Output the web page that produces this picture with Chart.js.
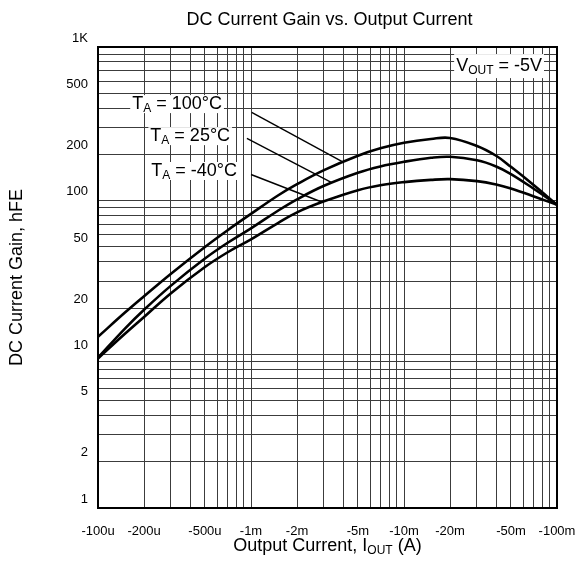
<!DOCTYPE html>
<html>
<head>
<meta charset="utf-8">
<script src="https://cdn.jsdelivr.net/npm/chart.js@4.4.1/dist/chart.umd.min.js"></script>
<style>
  html, body { margin: 0; padding: 0; background: #fff; }
  canvas { display: block; }
</style>
</head>
<body>
<canvas id="gainChart" width="580" height="576"></canvas>
<script>
// output current magnitude (A); the axis labels carry the minus sign
var currentA = [1e-4, 1.5e-4, 2e-4, 3e-4, 5e-4, 7e-4, 1e-3, 1.5e-3, 2e-3, 3e-3, 5e-3, 7e-3, 1e-2, 1.5e-2, 2e-2, 3e-2, 4e-2, 5e-2, 7e-2, 1e-1];
var gain100 = [13, 18.7, 23.9, 33.5, 50, 64, 82, 108, 128, 158, 196, 219, 238, 252, 256, 227, 196, 166, 127, 94];
var gain25 = [9.5, 14.7, 19.5, 28, 42, 53, 66, 86, 102, 125, 152, 167, 179, 190, 193, 183, 167, 149, 120, 94];
var gainMinus40 = [9.4, 13.6, 17.5, 25, 37, 46, 56, 71.5, 84, 99, 117, 126, 132, 136.5, 138, 134, 127.5, 120, 107, 94];

var xTickValues = [1e-4, 2e-4, 5e-4, 1e-3, 2e-3, 5e-3, 1e-2, 2e-2, 5e-2, 1e-1];
var xTickLabels = ["-100u", "-200u", "-500u", "-1m", "-2m", "-5m", "-10m", "-20m", "-50m", "-100m"];
var yTickValues = [1, 2, 5, 10, 20, 50, 100, 200, 500, 1000];
var yTickLabels = ["1", "2", "5", "10", "20", "50", "100", "200", "500", "1K"];

// curve labels and their leader lines, in data units
var tempLabels = [" = 100°C", " = 25°C", " = -40°C"];
var labelRightX = [6.46e-4, 7.3e-4, 8.1e-4];
var labelMidY = [425, 263, 156];
var leaderFrom = [[1.01e-3, 375], [9.4e-4, 254], [1.0e-3, 148]];
var leaderTo = [[3.92e-3, 180], [3.37e-3, 131], [2.9e-3, 98]];
var voutRightX = 7.98e-2;
var voutMidY = 751;

var FONT = '"Liberation Sans", Arial, sans-serif';
Chart.defaults.font.family = FONT;
Chart.defaults.color = "#000";

function logTicks(min, max) {
  var out = [];
  for (var e = Math.round(Math.log10(min)); e < Math.round(Math.log10(max)); e++) {
    for (var m = 1; m < 10; m++) {
      out.push({ value: Number((m * Math.pow(10, e)).toPrecision(2)) });
    }
  }
  out.push({ value: max });
  return out;
}

function findLabel(v, values, labels) {
  for (var i = 0; i < values.length; i++) {
    if (Math.abs(v / values[i] - 1) < 1e-6) return labels[i];
  }
  return "";
}

function toPoints(xs, ys) {
  return xs.map(function (x, i) { return { x: x, y: ys[i] }; });
}

// draws text with subscript pieces; parts = [[text, isSub], ...]
function drawRich(ctx, parts, x, y, align, size, box) {
  var subSize = Math.round(size * 0.67);
  var w = 0;
  parts.forEach(function (p) {
    ctx.font = (p[1] ? subSize : size) + "px " + FONT;
    w += ctx.measureText(p[0]).width;
  });
  var cx = align === "right" ? x - w : (align === "center" ? x - w / 2 : x);
  if (box) {
    ctx.fillStyle = "#fff";
    ctx.fillRect(cx - 2, y - box, w + 4, box * 2);
  }
  ctx.fillStyle = "#000";
  ctx.textBaseline = "middle";
  ctx.textAlign = "left";
  parts.forEach(function (p) {
    ctx.font = (p[1] ? subSize : size) + "px " + FONT;
    ctx.fillText(p[0], cx, p[1] ? y + 5 : y);
    cx += ctx.measureText(p[0]).width;
  });
}

var extras = {
  id: "extras",
  beforeDatasetsDraw: function (chart) {
    var ctx = chart.ctx;
    var xs = chart.scales.x, ys = chart.scales.y;
    var a = chart.chartArea;
    ctx.save();
    ctx.strokeStyle = "#000";
    ctx.lineWidth = 2;
    ctx.strokeRect(a.left, a.top, a.right - a.left, a.bottom - a.top);
    for (var i = 0; i < tempLabels.length; i++) {
      drawRich(ctx, [["T", false], ["A", true], [tempLabels[i], false]],
        xs.getPixelForValue(labelRightX[i]), ys.getPixelForValue(labelMidY[i]), "right", 18, 9);
    }
    drawRich(ctx, [["V", false], ["OUT", true], [" = -5V", false]],
      xs.getPixelForValue(voutRightX), ys.getPixelForValue(voutMidY), "right", 18, 12);
    ctx.restore();
  },
  afterDraw: function (chart) {
    var ctx = chart.ctx;
    var a = chart.chartArea;
    var midX = (a.left + a.right) / 2;
    ctx.save();
    drawRich(ctx, [["DC Current Gain vs. Output Current", false]], midX + 2, 20, "center", 18);
    drawRich(ctx, [["Output Current, I", false], ["OUT", true], [" (A)", false]], midX, 546, "center", 18);
    ctx.translate(17, (a.top + a.bottom) / 2);
    ctx.rotate(-Math.PI / 2);
    drawRich(ctx, [["DC Current Gain, hFE", false]], 0, 0, "center", 18);
    ctx.restore();
  }
};

var datasets = [];
for (var i = 0; i < leaderFrom.length; i++) {
  datasets.push({
    data: [{ x: leaderFrom[i][0], y: leaderFrom[i][1] }, { x: leaderTo[i][0], y: leaderTo[i][1] }],
    borderColor: "#000",
    borderWidth: 1.4,
    tension: 0
  });
}
[gain100, gain25, gainMinus40].forEach(function (g) {
  datasets.push({
    data: toPoints(currentA, g),
    borderColor: "#000",
    borderWidth: 2.6,
    tension: 0.4
  });
});

var gridOpts = { color: "#3c3c3c", lineWidth: 1, drawTicks: false };

new Chart(document.getElementById("gainChart").getContext("2d"), {
  type: "line",
  data: { datasets: datasets },
  options: {
    responsive: false,
    animation: false,
    layout: { padding: { top: 47, right: 23, bottom: 0, left: 0 } },
    elements: { point: { radius: 0 } },
    plugins: { legend: { display: false }, tooltip: { enabled: false } },
    scales: {
      x: {
        type: "logarithmic",
        min: 1e-4,
        max: 1e-1,
        grid: gridOpts,
        border: { display: false },
        afterBuildTicks: function (scale) { scale.ticks = logTicks(1e-4, 1e-1); },
        afterFit: function (scale) {
          scale.height = 68;
          scale.paddingLeft = 0;
          scale.paddingRight = 0;
        },
        ticks: {
          autoSkip: false,
          maxRotation: 0,
          padding: 16,
          font: { size: 13 },
          callback: function (v) { return findLabel(v, xTickValues, xTickLabels); }
        }
      },
      y: {
        type: "logarithmic",
        min: 1,
        max: 1000,
        grid: gridOpts,
        border: { display: false },
        afterBuildTicks: function (scale) { scale.ticks = logTicks(1, 1000); },
        afterFit: function (scale) {
          scale.width = 98;
          scale.paddingTop = 0;
          scale.paddingBottom = 0;
        },
        ticks: {
          autoSkip: false,
          padding: 10,
          labelOffset: -9,
          font: { size: 13 },
          callback: function (v) { return findLabel(v, yTickValues, yTickLabels); }
        }
      }
    }
  },
  plugins: [extras]
});
</script>
</body>
</html>
